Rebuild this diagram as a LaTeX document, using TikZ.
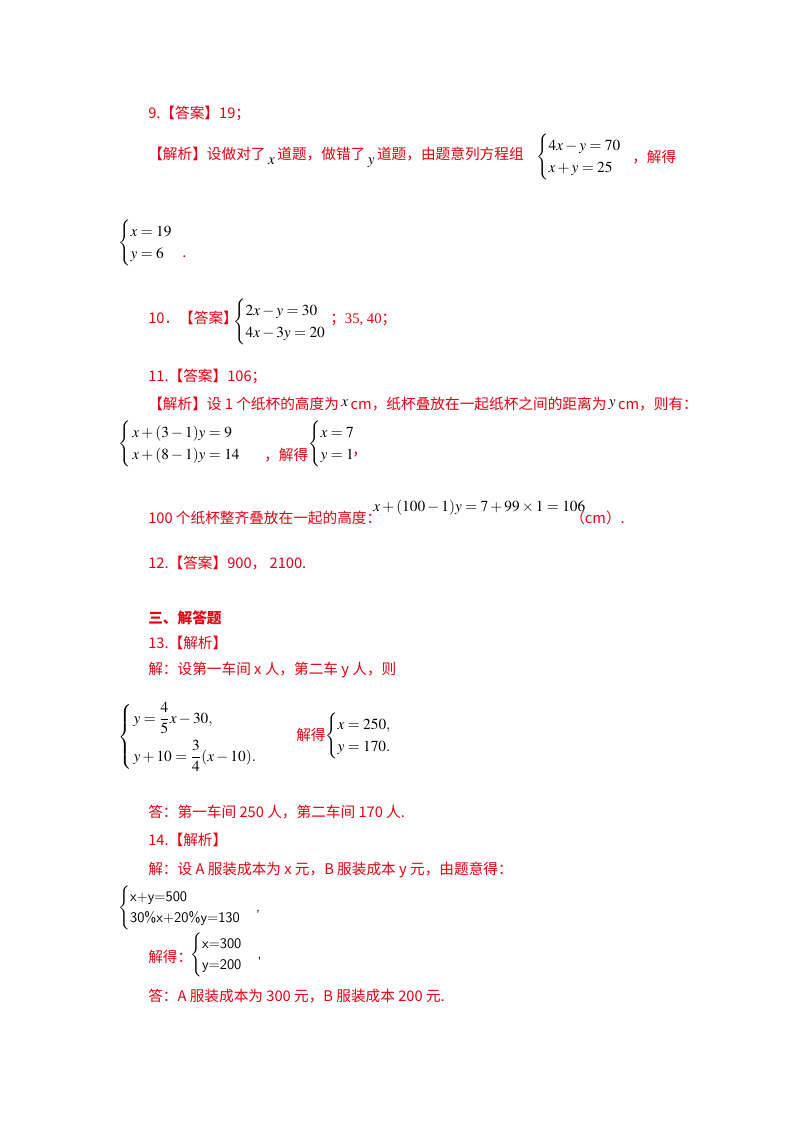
\documentclass[tikz,border=0pt]{standalone}
\usepackage{amsmath}
\usepackage{mathptmx}
\usepackage[no-math]{fontspec}
\setmainfont{Noto Sans CJK SC}
\newfontfamily\lat{Liberation Serif}
\usepackage{xcolor}
\definecolor{ared}{RGB}{230,0,18}
\begin{document}
\begin{tikzpicture}[x=0.75pt,y=-0.75pt,
  t/.style={anchor=west,inner sep=0pt,text=ared,font=\fontsize{11}{13}\selectfont},
  m/.style={anchor=west,inner sep=0pt,text=black,font=\fontsize{11.5}{14}\selectfont}]
\useasboundingbox[fill=white] (0,0) rectangle (800,1132);
\node[t] (a1) at (148,113) {9.【答案】19；};
\node[t] (a2) at (148,157) {【解析】设做对了\,\textcolor{black}{\raisebox{-4pt}{\fontsize{11.5}{14}\selectfont$x$}}\,道题，做错了\,\textcolor{black}{\raisebox{-4pt}{\fontsize{11.5}{14}\selectfont$y$}}\,道题，由题意列方程组};
\node[m] (a3) at (536,157) {$\begin{cases}4x-y=70\\ x+y=25\end{cases}$};
\node[t] (a4) at (632,157) {，解得};
\node[m] (a5) at (118,243) {$\begin{cases}x=19\\ y=6\end{cases}$};
\node[t] (a6) at (182,257) {.};
\node[t] (b1) at (148,318) {10．【答案】};
\node[m] (b2) at (233,322) {$\begin{cases}2x-y=30\\ 4x-3y=20\end{cases}$};
\node[t] (b3) at (330,320) {；{\lat 35, 40}；};
\node[t] (c1) at (148,376) {11.【答案】106；};
\node[t] (c2) at (148,404) {【解析】设 1 个纸杯的高度为\,\textcolor{black}{\raisebox{2pt}{\fontsize{11.5}{14}\selectfont$x$}}\,cm，纸杯叠放在一起纸杯之间的距离为\,\textcolor{black}{\raisebox{2pt}{\fontsize{11.5}{14}\selectfont$y$}}\,cm，则有：};
\node[m] (c3) at (118,444) {$\begin{cases}\,x+(3-1)y=9\\ \,x+(8-1)y=14\end{cases}$};
\node[t] (c4) at (264,455) {，解得};
\node[m] (c5) at (308,444) {$\begin{cases}x=7\\ y=1\end{cases}$};
\node[t] (c6) at (352,455) {，};
\node[t] (c7) at (148,518) {100 个纸杯整齐叠放在一起的高度：};
\node[m] (c8) at (373,508) {$x+(100-1)y=7+99\times1=106$};
\node[t] (c9) at (570,518) {（cm）.};
\node[t] (d1) at (148,563) {12.【答案】900， 2100.};
\node[t,font=\fontsize{11}{13}\selectfont\bfseries] (e0) at (148,618) {三、解答题};
\node[t] (e1) at (148,643) {13.【解析】};
\node[t] (e2) at (148,670) {解：设第一车间 x 人，第二车 y 人，则};
\node[m] (e3) at (118,737) {$\begin{cases}\,y=\dfrac45x-30,\\[8pt] \,y+10=\dfrac34(x-10).\end{cases}$};
\node[t] (e4) at (296,735) {解得};
\node[m] (e5) at (325,736) {$\begin{cases}x=250,\\ y=170.\end{cases}$};
\node[t] (e6) at (148,812) {答：第一车间 250 人，第二车间 170 人.};
\node[t] (f1) at (148,840) {14.【解析】};
\node[t] (f2) at (148,870) {解：设 A 服装成本为 x 元，B 服装成本 y 元，由题意得：};
\node[m,font=\fontsize{11}{13}\selectfont\sffamily] (f3) at (118,908) {$\begin{cases}\text{x+y=500}\\ \text{30\%x+20\%y=130}\end{cases}$,};
\node[t] (f4) at (148,957) {解得：};
\node[m,font=\fontsize{11}{13}\selectfont\sffamily] (f5) at (190,955) {$\begin{cases}\text{x=300}\\ \text{y=200}\end{cases}$,};
\node[t] (f6) at (148,996) {答：A 服装成本为 300 元，B 服装成本 200 元.};
\end{tikzpicture}
\end{document}
